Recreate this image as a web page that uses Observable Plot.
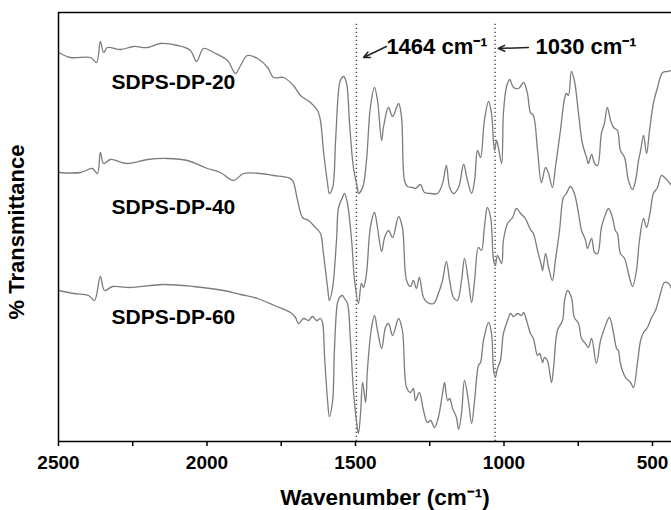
<!DOCTYPE html>
<html>
<head>
<meta charset="utf-8">
<script src="https://cdn.jsdelivr.net/npm/d3@7"></script>
<script src="https://cdn.jsdelivr.net/npm/@observablehq/plot@0.6"></script>
<style>
  html, body { margin: 0; padding: 0; background: #fff; }
</style>
</head>
<body>
<div id="chart"></div>
<script>
// ---- Data ----
const seriesNames = ["SDPS-DP-20", "SDPS-DP-40", "SDPS-DP-60"];

// SDPS-DP-20 (top trace): wavenumber (cm-1) and transmittance (arbitrary, offset)
const wn20 = [2500,2460,2392,2372,2359,2348,2335,2291,2247,2200,2157,2099,2056,2035,2012,1978,1931,1904,1887,1864,1830,1796,1776,1742,1709,1685,1652,1628,1618,1608,1594,1588,1577,1567,1557,1551,1540,1530,1520,1507,1493,1490,1476,1463,1450,1436,1426,1412,1406,1389,1375,1355,1345,1335,1325,1308,1298,1281,1268,1247,1224,1207,1194,1183,1170,1153,1136,1123,1109,1099,1089,1079,1066,1052,1042,1032,1025,1019,1008,1002,992,981,968,951,934,921,911,901,887,874,860,850,837,827,810,796,790,783,773,763,749,736,722,716,705,695,685,672,662,652,641,631,618,608,594,581,567,557,547,540,530,520,510,497,483,466,450,436];
const t20  = [389,384,384,379,400,389,394,392,395,394,398,396,391,380,393,389,381,368,376,386,383,374,364,364,356,346,339,331,321,291,258,248,254,301,351,361,365,358,318,274,253,248,254,281,334,354,341,301,314,334,325,338,324,261,255,254,253,257,249,248,248,258,276,254,248,254,277,261,248,261,291,284,321,340,328,291,301,294,278,328,354,362,354,353,359,348,329,326,291,259,274,268,254,274,311,343,348,346,370,361,328,298,284,278,287,278,276,308,318,334,321,314,311,291,284,261,252,261,281,291,306,288,311,338,354,369,370,371];

// SDPS-DP-40 (middle trace)
const wn40 = [2500,2426,2386,2369,2359,2348,2325,2268,2200,2133,2066,1998,1955,1911,1877,1820,1776,1729,1712,1695,1678,1658,1635,1618,1608,1594,1588,1577,1564,1557,1544,1537,1527,1513,1503,1490,1480,1473,1463,1450,1436,1426,1412,1402,1389,1375,1355,1342,1328,1315,1305,1295,1285,1271,1258,1237,1221,1207,1194,1183,1170,1157,1143,1133,1120,1109,1099,1086,1076,1066,1056,1045,1035,1029,1022,1008,1002,988,971,958,944,928,911,901,887,874,870,860,850,837,827,813,800,790,776,763,749,739,726,719,705,695,685,672,662,648,635,625,618,608,594,581,567,554,544,530,520,507,497,483,470,456,436];
const t40  = [269,269,273,268,289,278,282,278,282,283,281,273,269,261,268,268,266,264,261,241,224,221,214,208,188,154,141,154,201,234,244,248,238,201,161,138,158,154,168,214,229,214,190,204,211,204,225,214,161,155,161,153,164,144,139,138,148,161,180,161,144,141,161,183,161,139,161,194,191,214,234,224,181,176,186,178,201,218,224,233,228,223,212,208,191,176,171,188,174,161,181,211,244,248,255,248,228,211,202,193,203,189,188,214,224,233,224,211,208,188,183,168,155,171,201,223,214,231,248,254,266,263,256];

// SDPS-DP-60 (bottom trace)
const wn60 = [2500,2449,2399,2379,2359,2345,2318,2261,2146,2045,1944,1887,1830,1773,1719,1702,1692,1675,1658,1645,1631,1618,1611,1604,1594,1588,1577,1571,1561,1554,1544,1537,1527,1517,1507,1497,1490,1483,1476,1466,1460,1446,1436,1426,1412,1399,1389,1375,1355,1342,1328,1315,1305,1298,1285,1271,1258,1247,1234,1221,1207,1200,1190,1183,1173,1160,1153,1143,1133,1120,1109,1099,1086,1079,1069,1052,1042,1035,1029,1022,1012,1002,988,978,968,955,941,934,921,911,901,887,880,870,864,854,840,833,820,803,796,786,773,763,749,739,726,716,705,689,675,662,645,631,621,615,608,591,574,564,551,540,530,517,503,490,473,460,446,436];
const t60  = [151,148,146,141,165,151,155,154,157,155,151,147,143,136,129,124,118,123,121,125,121,123,119,84,41,25,41,91,138,144,146,143,138,101,51,21,8,28,59,39,71,114,126,111,93,114,118,106,123,111,54,49,53,41,49,31,19,21,14,24,48,59,41,43,33,24,12,28,61,41,18,41,76,79,101,119,108,71,64,73,81,108,121,128,125,128,126,129,118,108,103,86,88,79,84,81,59,74,111,121,141,151,144,124,118,103,98,94,103,78,101,113,124,108,93,91,78,64,59,54,78,101,109,114,124,131,148,159,158,153];

// Axis ticks
const xTicks = [2500, 2250, 2000, 1750, 1500, 1250, 1000, 750, 500];
const xTickLabels = [2500, 2000, 1500, 1000, 500];

// Annotations
const markerLines = [1497, 1030];
const annotationTexts = ["1464 cm\u207B\u00B9", "1030 cm\u207B\u00B9"];
const annotationX = [1396, 894];
const annotationY = [395, 395];
const arrowFromX = [1396, 918];
const arrowFromY = [395, 394];
const arrowToX = [1473, 1019];
const arrowToY = [384, 393];
const labelX = [2113, 2113, 2113];
const labelY = [359, 234, 124];

// ---- Build tables ----
const rows = [];
[[wn20, t20], [wn40, t40], [wn60, t60]].forEach(([w, t], k) => {
  w.forEach((x, i) => rows.push({series: seriesNames[k], wn: x, t: t[i]}));
});
const seriesLabels = seriesNames.map((s, i) => ({name: s, x: labelX[i], y: labelY[i]}));
const annots = annotationTexts.map((s, i) => ({text: s, x: annotationX[i], y: annotationY[i]}));
const arrows = arrowFromX.map((_, i) => ({x1: arrowFromX[i], y1: arrowFromY[i], x2: arrowToX[i], y2: arrowToY[i]}));

const FONT = "'Liberation Sans', Arial, Helvetica, sans-serif";
const Y_TOP = 429;

const chart = Plot.plot({
  width: 671,
  height: 510,
  marginLeft: 58,
  marginRight: 0,
  marginTop: 12,
  marginBottom: 69,
  style: {fontFamily: FONT, background: "#fff", color: "#000"},
  x: {domain: [2500, 436], label: null},
  y: {domain: [0, Y_TOP], axis: null, label: null},
  marks: [
    Plot.ruleX(markerLines, {y1: 0, y2: 418, stroke: "#444", strokeWidth: 1.4, strokeDasharray: "1.3,2.7"}),
    Plot.line(rows, {x: "wn", y: "t", z: "series", stroke: "#7c7c7c", strokeWidth: 1.3, curve: "catmull-rom", clip: true}),
    Plot.ruleY([0], {stroke: "#000", strokeWidth: 1.5}),
    Plot.ruleY([Y_TOP], {stroke: "#000", strokeWidth: 1.5}),
    Plot.ruleX([2500], {stroke: "#000", strokeWidth: 1.5}),
    Plot.axisX({
      ticks: xTicks,
      tickFormat: d => xTickLabels.includes(d) ? String(d) : "",
      tickSize: 5,
      tickPadding: 9,
      fontSize: 19,
      fontWeight: "bold",
      stroke: "#000",
      strokeWidth: 1.5,
      fill: "#000",
      label: null
    }),
    Plot.text(seriesLabels, {x: "x", y: "y", text: "name", fontSize: 21, fontWeight: "bold", fill: "#000", letterSpacing: 0.8}),
    Plot.text(annots, {x: "x", y: "y", text: "text", textAnchor: "start", fontSize: 22, fontWeight: "bold", fill: "#000"}),
    Plot.arrow(arrows, {x1: "x1", y1: "y1", x2: "x2", y2: "y2", stroke: "#222", strokeWidth: 1.5, headLength: 7, headAngle: 50}),
    Plot.text(["Wavenumber (cm\u207B\u00B9)"], {frameAnchor: "bottom", textAnchor: "middle", dx: 20, dy: 63, fontSize: 22.5, fontWeight: "bold", fill: "#000"}),
    Plot.text(["% Transmittance"], {frameAnchor: "left", textAnchor: "middle", rotate: -90, dx: -42, dy: 5, fontSize: 22, fontWeight: "bold", fill: "#000"})
  ]
});
document.getElementById("chart").appendChild(chart);
</script>
</body>
</html>
